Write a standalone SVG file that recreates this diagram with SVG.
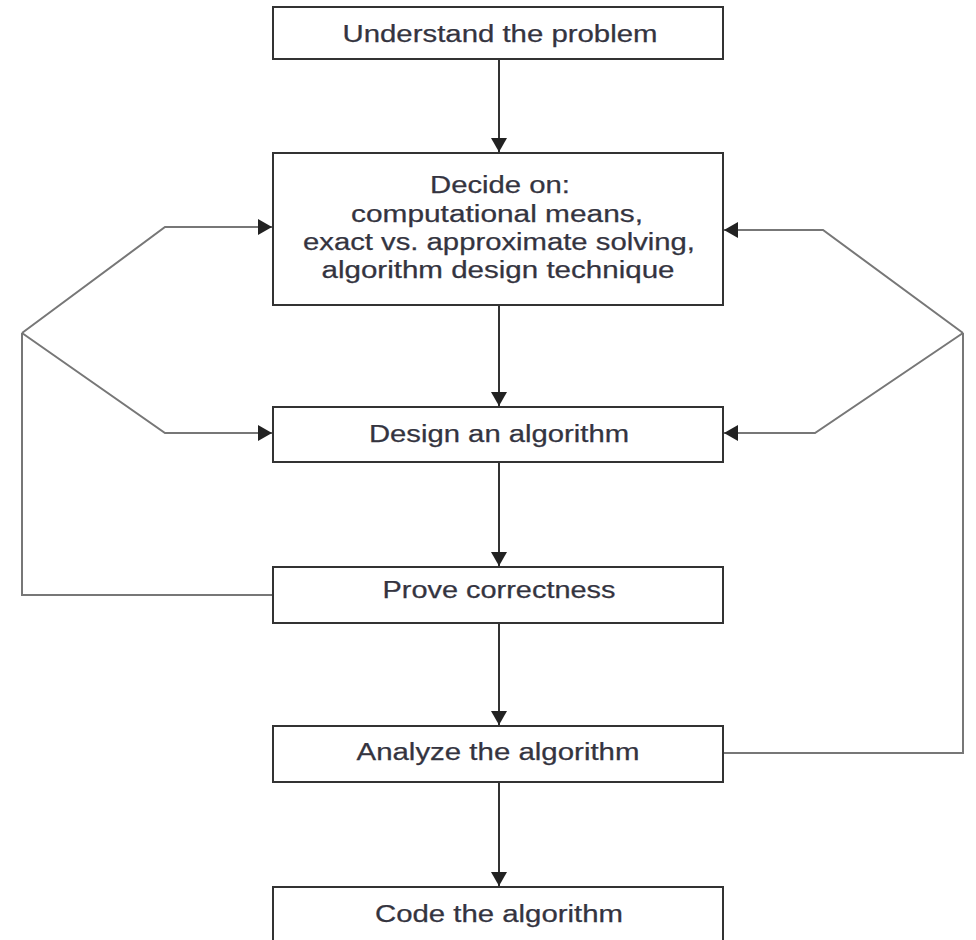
<svg xmlns="http://www.w3.org/2000/svg" width="976" height="940" viewBox="0 0 976 940">
<style>
.box{fill:#fff;stroke:#333;stroke-width:2}
.t{font-family:"Liberation Sans",Arial,sans-serif;font-size:23px;fill:#34343f;text-anchor:middle;stroke:#34343f;stroke-width:0.25}
.main{fill:none;stroke:#333;stroke-width:2}
.loop{fill:none;stroke:#777;stroke-width:2;stroke-linejoin:miter}
</style>
<defs>
<marker id="ah" markerUnits="userSpaceOnUse" markerWidth="16" markerHeight="18" refX="14" refY="8" orient="auto">
<path d="M0,0 L14,8 L0,16 z" fill="#222"/>
</marker>
</defs>
<rect width="976" height="940" fill="#fff"/>
<g id="connectors">
<line class="main" x1="499" y1="59" x2="499" y2="152" marker-end="url(#ah)"/>
<line class="main" x1="499" y1="305" x2="499" y2="406" marker-end="url(#ah)"/>
<line class="main" x1="499" y1="462" x2="499" y2="566" marker-end="url(#ah)"/>
<line class="main" x1="499" y1="623" x2="499" y2="725" marker-end="url(#ah)"/>
<line class="main" x1="499" y1="782" x2="499" y2="886" marker-end="url(#ah)"/>
<polyline class="loop" points="273,595 22,595 22,333"/>
<polyline class="loop" points="22,333 165,227 272,227" marker-end="url(#ah)"/>
<polyline class="loop" points="22,333 165,433 272,433" marker-end="url(#ah)"/>
<polyline class="loop" points="723,753 963,753 963,333"/>
<polyline class="loop" points="963,333 823,230 724,230" marker-end="url(#ah)"/>
<polyline class="loop" points="963,333 815,433 724,433" marker-end="url(#ah)"/>
</g>
<g id="understand">
<rect class="box" x="273" y="7" width="450" height="52"/>
<text class="t" x="500" y="42" textLength="315" lengthAdjust="spacingAndGlyphs">Understand the problem</text>
</g>
<g id="decide">
<rect class="box" x="273" y="153" width="450" height="152"/>
<text class="t" x="500" y="193" textLength="140" lengthAdjust="spacingAndGlyphs">Decide on:</text>
<text class="t" x="497" y="222" textLength="292" lengthAdjust="spacingAndGlyphs">computational means,</text>
<text class="t" x="499" y="250" textLength="392" lengthAdjust="spacingAndGlyphs">exact vs. approximate solving,</text>
<text class="t" x="498" y="278" textLength="353" lengthAdjust="spacingAndGlyphs">algorithm design technique</text>
</g>
<g id="design">
<rect class="box" x="273" y="407" width="450" height="55"/>
<text class="t" x="499" y="442" textLength="260" lengthAdjust="spacingAndGlyphs">Design an algorithm</text>
</g>
<g id="prove">
<rect class="box" x="273" y="567" width="450" height="56"/>
<text class="t" x="499" y="598" textLength="233" lengthAdjust="spacingAndGlyphs">Prove correctness</text>
</g>
<g id="analyze">
<rect class="box" x="273" y="726" width="450" height="56"/>
<text class="t" x="498" y="760" textLength="283" lengthAdjust="spacingAndGlyphs">Analyze the algorithm</text>
</g>
<g id="code">
<rect class="box" x="273" y="887" width="450" height="70"/>
<text class="t" x="499" y="922" textLength="248" lengthAdjust="spacingAndGlyphs">Code the algorithm</text>
</g>
</svg>
